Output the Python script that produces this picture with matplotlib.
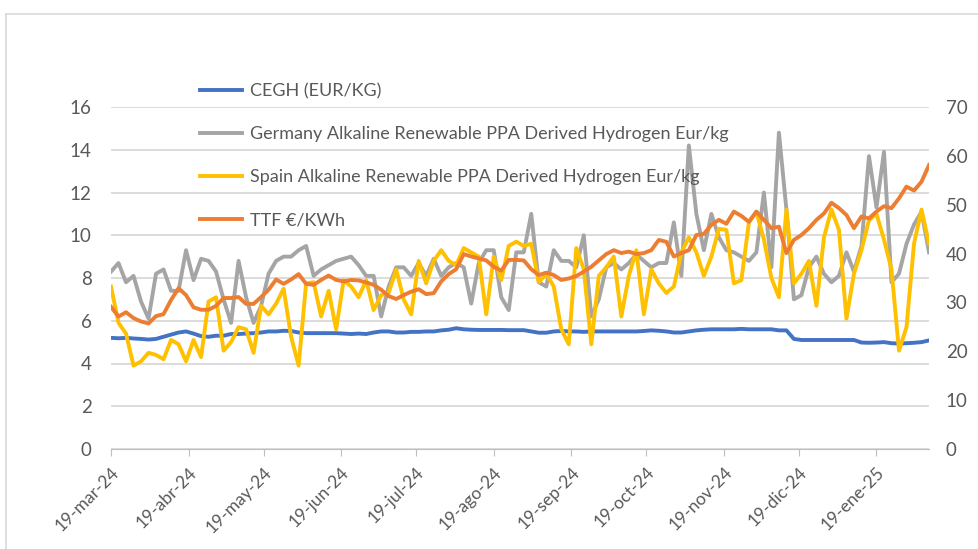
import matplotlib
matplotlib.use("Agg")
import matplotlib.pyplot as plt
from matplotlib.lines import Line2D
import pandas as pd

# series sampled every 3 days from 19-mar-24
start = "2024-03-19"
n_points = 110

cegh = [5.2, 5.18, 5.2, 5.17, 5.15, 5.12, 5.15, 5.25, 5.35, 5.45,
        5.5, 5.4, 5.28, 5.25, 5.3, 5.3, 5.38, 5.38, 5.4, 5.42,
        5.45, 5.5, 5.5, 5.53, 5.52, 5.45, 5.42, 5.42, 5.42, 5.42,
        5.42, 5.4, 5.38, 5.4, 5.38, 5.45, 5.5, 5.5, 5.45, 5.45,
        5.48, 5.48, 5.5, 5.5, 5.55, 5.58, 5.65, 5.6, 5.58, 5.57,
        5.57, 5.57, 5.57, 5.56, 5.56, 5.56, 5.5, 5.44, 5.44, 5.5,
        5.52, 5.5, 5.5, 5.48, 5.5, 5.5, 5.5, 5.5, 5.5, 5.5,
        5.5, 5.52, 5.55, 5.53, 5.5, 5.45, 5.45, 5.5, 5.55, 5.58,
        5.6, 5.6, 5.6, 5.6, 5.62, 5.6, 5.6, 5.6, 5.6, 5.55,
        5.55, 5.15, 5.1, 5.1, 5.1, 5.1, 5.1, 5.1, 5.1, 5.1,
        4.98, 4.97, 4.98, 5.0, 4.95, 4.93, 4.95, 4.97, 5.0, 5.08]

germany = [8.3, 8.7, 7.8, 8.1, 6.9, 6.1, 8.2, 8.4, 7.4, 7.4,
           9.3, 7.9, 8.9, 8.8, 8.3, 7.0, 5.9, 8.8, 7.1, 5.9,
           6.7, 8.2, 8.8, 9.0, 9.0, 9.3, 9.5, 8.1, 8.4, 8.6,
           8.8, 8.9, 9.0, 8.6, 8.1, 8.1, 6.2, 7.6, 8.5, 8.5,
           8.1, 8.7, 8.1, 8.9, 8.1, 8.5, 8.7, 8.5, 6.8, 8.7,
           9.3, 9.3, 7.1, 6.5, 9.2, 9.2, 11.0, 7.8, 7.6, 9.3,
           8.8, 8.8, 8.5, 10.0, 6.2, 7.0, 8.5, 8.7, 8.4, 8.7,
           9.1, 8.8, 8.5, 8.7, 8.7, 10.6, 8.1, 14.2, 11.0, 9.3,
           11.0, 9.9, 9.3, 9.2, 9.0, 8.8, 9.2, 12.0, 8.5, 14.8,
           11.2, 7.0, 7.2, 8.5, 9.0, 8.2, 7.8, 8.1, 9.2, 8.3,
           9.5, 13.7, 11.3, 13.9, 7.8, 8.2, 9.6, 10.5, 11.1, 9.2]

spain = [7.6, 5.9, 5.4, 3.9, 4.1, 4.5, 4.4, 4.2, 5.1, 4.9,
         4.1, 5.1, 4.3, 6.9, 7.1, 4.6, 5.0, 5.7, 5.6, 4.5,
         6.7, 6.3, 6.8, 7.5, 5.25, 3.9, 7.75, 7.8, 6.2, 7.4,
         5.6, 7.9, 7.6, 7.1, 7.9, 6.5, 7.2, 7.3, 8.4, 7.0,
         6.3, 8.8, 7.75, 8.8, 9.3, 8.8, 8.6, 9.4, 9.2, 9.0,
         6.3, 9.0, 7.9, 9.5, 9.7, 9.5, 9.6, 7.8, 8.2, 7.6,
         5.6, 4.9, 9.4, 8.4, 4.9, 8.1, 8.5, 9.0, 6.2, 8.1,
         9.3, 6.3, 8.4, 7.75, 7.3, 7.6, 9.2, 9.9, 9.2, 8.1,
         9.0, 10.3, 10.25, 7.75, 7.9, 10.6, 11.1, 9.8, 8.0, 7.1,
         11.2, 7.75, 8.2, 8.8, 6.7, 9.9, 11.2, 10.25, 6.1, 8.2,
         9.3, 10.7, 11.0, 9.8, 8.4, 4.6, 5.7, 9.6, 11.2, 9.6]

ttf = [29.1, 27.1, 28.0, 26.8, 26.1, 25.7, 27.2, 27.6, 30.5, 32.9,
       31.5, 29.0, 28.5, 28.5, 29.3, 30.9, 30.9, 31.1, 29.7, 29.7,
       31.1, 32.6, 34.7, 33.8, 34.7, 35.8, 33.8, 33.6, 34.6, 35.5,
       34.6, 34.3, 34.6, 34.5, 34.1, 33.6, 32.6, 31.3, 30.7, 31.5,
       32.2, 32.7, 31.7, 31.9, 34.3, 35.8, 36.8, 39.9, 39.4, 39.0,
       38.6, 37.3, 36.5, 38.7, 38.7, 38.6, 36.8, 35.6, 36.1, 35.6,
       34.6, 34.9, 35.4, 36.3, 37.3, 38.6, 39.9, 40.7, 40.1, 40.4,
       39.9, 40.1, 40.7, 42.8, 42.4, 39.4, 40.1, 40.7, 43.8, 44.0,
       45.9, 46.9, 46.1, 48.6, 47.7, 46.5, 48.6, 46.9, 45.2, 45.5,
       40.1, 42.8, 43.8, 45.2, 46.9, 48.2, 50.4, 49.3, 47.9, 45.2,
       47.6, 47.2, 48.6, 49.7, 49.3, 51.3, 53.7, 52.9, 54.7, 58.1]

tick_dates = ["2024-03-19", "2024-04-19", "2024-05-19", "2024-06-19",
              "2024-07-19", "2024-08-19", "2024-09-19", "2024-10-19",
              "2024-11-19", "2024-12-19", "2025-01-19"]
tick_labels = ["19-mar-24", "19-abr-24", "19-may-24", "19-jun-24",
               "19-jul-24", "19-ago-24", "19-sep-24", "19-oct-24",
               "19-nov-24", "19-dic-24", "19-ene-25"]

names = ["CEGH (EUR/KG)",
         "Germany Alkaline Renewable PPA Derived Hydrogen Eur/kg",
         "Spain Alkaline Renewable PPA Derived Hydrogen Eur/kg",
         "TTF €/KWh"]

dates = pd.date_range(start, periods=n_points, freq="3D")

plt.rcParams["font.family"] = ["Lato", "DejaVu Sans"]
text_col = "#595959"
grid_col = "#d9d9d9"

fig = plt.figure(figsize=(9.79, 5.49), dpi=100)
ax = fig.add_axes([111 / 979, 1 - 449 / 549, 818 / 979, 342 / 549])
ax2 = ax.twinx()

lw = 2.8
l1, = ax.plot(dates, cegh, color="#4472C4", lw=lw, label=names[0])
l2, = ax.plot(dates, germany, color="#A5A5A5", lw=lw, label=names[1])
l3, = ax.plot(dates, spain, color="#FFC000", lw=lw, label=names[2])
l4, = ax2.plot(dates, ttf, color="#ED7D31", lw=lw, label=names[3])

ax.set_xlim(dates[0], dates[-1])
ax.set_ylim(0, 16)
ax2.set_ylim(0, 70)
ax.set_yticks(range(0, 17, 2))
ax2.set_yticks(range(0, 71, 10))

ax.yaxis.grid(True, color=grid_col, lw=1.3)
ax.set_axisbelow(True)

for a in (ax, ax2):
    for s in ("top", "left", "right"):
        a.spines[s].set_visible(False)
    a.spines["bottom"].set_color("#bfbfbf")
ax2.spines["bottom"].set_visible(False)

ax.tick_params(axis="y", length=0, pad=14, labelsize=13.5, labelcolor=text_col)
ax2.tick_params(axis="y", length=0, pad=12, labelsize=13.5, labelcolor=text_col)

ax.set_xticks(pd.to_datetime(tick_dates))
ax.set_xticklabels(tick_labels, rotation=45, ha="right",
                   rotation_mode="anchor")
ax.tick_params(axis="x", direction="out", length=5, color="#bfbfbf",
               pad=6, labelsize=12.5, labelcolor=text_col)

fig.legend(handles=[l1, l2, l3, l4], loc="upper left",
           bbox_to_anchor=(200 / 979, 1 - 83 / 549), frameon=False,
           borderpad=0, borderaxespad=0, fontsize=13, labelcolor=text_col,
           handlelength=2.3, handletextpad=0.45, labelspacing=1.5)

# chart border, top and left edges
fig.add_artist(Line2D([6 / 979, 1.0], [1 - 14 / 549, 1 - 14 / 549],
                      color=grid_col, lw=1.2))
fig.add_artist(Line2D([6 / 979, 6 / 979], [0.0, 1 - 14 / 549],
                      color=grid_col, lw=1.2))

fig.savefig("out.png", dpi=100)
